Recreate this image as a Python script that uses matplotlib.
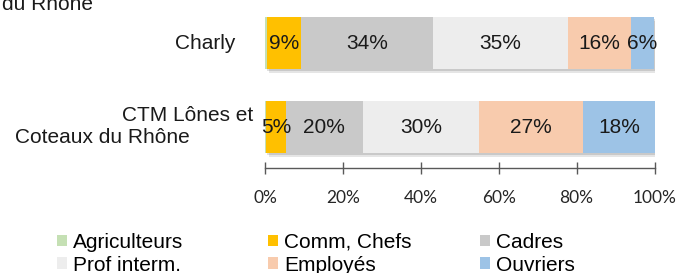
import matplotlib
matplotlib.use("Agg")
import matplotlib.pyplot as plt
import matplotlib.patheffects as pe
from matplotlib.patches import Patch
import matplotlib.transforms as mtransforms

# ---- data ----
categories = ["CTM Lônes et Coteaux du Rhône", "Charly"]
series_names = ["Agriculteurs", "Comm, Chefs", "Cadres", "Prof interm.", "Employés", "Ouvriers"]
charly = [0.5, 8.7, 33.9, 34.6, 16.2, 6.1]
ctm = [0.2, 5.2, 19.7, 29.9, 26.7, 18.3]
colors = ["#C5E0B4", "#FFC000", "#C9C9C9", "#EDEDED", "#F8CBAD", "#9DC3E6"]
xticks = [0, 20, 40, 60, 80, 100]
xtick_labels = ["0%", "20%", "40%", "60%", "80%", "100%"]

W, H = 692, 273
fig = plt.figure(figsize=(W / 100, H / 100), dpi=100)
ax = fig.add_axes([265 / W, 1 - 168 / H, (654.5 - 265) / W, 168 / H])

FONT = "Liberation Sans"
values = [ctm, charly]
ypos = [0, 1]
bar_h = 0.62

shadow = [pe.SimplePatchShadow(offset=(2.6, -2.6), shadow_rgbFace="k", alpha=0.10),
          pe.SimplePatchShadow(offset=(1.6, -1.6), shadow_rgbFace="k", alpha=0.12),
          pe.Normal()]

for yi, vals in zip(ypos, values):
    left = 0
    for j, v in enumerate(vals):
        b = ax.barh(yi, v, left=left, height=bar_h, color=colors[j], edgecolor="none")
        for p in b.patches:
            p.set_path_effects(shadow)
        if v >= 1:
            ax.text(left + v / 2, yi, f"{round(v):.0f}%", ha="center", va="center",
                    fontsize=15, family=FONT, color="#1a1a1a")
        left += v

ax.set_xlim(0, 100)
ax.set_ylim(-0.488, 1.512)
ax.set_xticks(xticks)
ax.set_xticklabels(xtick_labels, family="Lato", fontsize=12.5, color="#262626")
ax.set_yticks([])
for s in ["left", "right", "top"]:
    ax.spines[s].set_visible(False)
ax.spines["bottom"].set_color("#595959")
ax.spines["bottom"].set_linewidth(1.0)
ax.tick_params(axis="x", direction="inout", length=9, width=1.0, color="#595959", pad=11)

# category labels
trans = mtransforms.blended_transform_factory(fig.transFigure, ax.transData)
ax.text(235 / W, 1, categories[1], transform=trans, ha="right", va="center",
        fontsize=15, family=FONT, color="#1a1a1a")
ax.text(253 / W, 0 + 12 / 84, "CTM Lônes et", transform=trans, ha="right", va="center",
        fontsize=15, family=FONT, color="#1a1a1a")
ax.text(15 / W, 0 - 10 / 84, "Coteaux du Rhône", transform=trans, ha="left", va="center",
        fontsize=15, family=FONT, color="#1a1a1a")

# clipped title remnant
fig.text(2 / W, 1 - 9.5 / H, "du Rhône", ha="left", va="baseline",
         fontsize=15, family=FONT, color="#1a1a1a")

# legend, three columns row-wise
handles = [Patch(facecolor=c, edgecolor="none") for c in colors]
col_x = [57, 268, 480]
for k in range(3):
    hs = [handles[k], handles[k + 3]]
    ls = [series_names[k], series_names[k + 3]]
    fig.legend(hs, ls, loc="upper left", bbox_to_anchor=(col_x[k] / W, 1 - 233 / H),
               frameon=False, borderpad=0, borderaxespad=0, handlelength=0.48,
               handleheight=0.48, handletextpad=0.29, labelspacing=0.17,
               prop={"family": FONT, "size": 15})

fig.savefig("out.png", dpi=100)
